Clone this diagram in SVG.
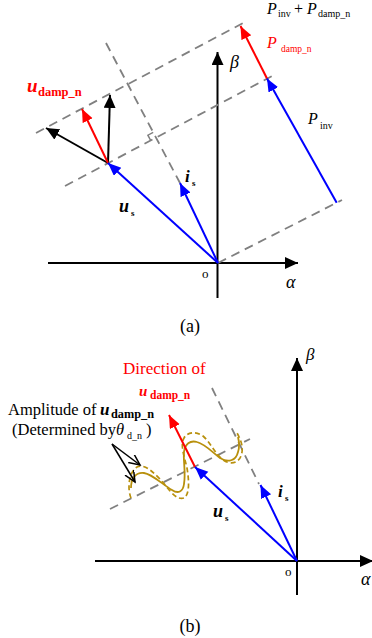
<svg xmlns="http://www.w3.org/2000/svg" width="372" height="638" viewBox="0 0 372 638">
<style>
text{font-family:"Liberation Serif","Times New Roman",serif;fill:#000}
.it{font-style:italic}
.bi{font-style:italic;font-weight:bold}
.b{font-weight:bold}
.red{fill:#ff0000}
.ax{stroke:#000;stroke-width:2;fill:none}
.dash{stroke:#808080;stroke-width:1.8;stroke-dasharray:9 6;fill:none}
.blue{stroke:#0000ff;stroke-width:2;fill:none}
.rd{stroke:#ff0000;stroke-width:2;fill:none}
.bk{stroke:#000;stroke-width:2;fill:none}
.gold{stroke:#b8900c;stroke-width:1.8;fill:none}
.goldd{stroke:#b8900c;stroke-width:1.7;fill:none;stroke-dasharray:5 3}
</style>
<defs>
<marker id="aK" markerUnits="userSpaceOnUse" markerWidth="14" markerHeight="12" refX="13" refY="6" orient="auto"><path d="M0,0 L13,6 L0,12 z" fill="#000"/></marker>
<marker id="aB" markerUnits="userSpaceOnUse" markerWidth="14" markerHeight="12" refX="13" refY="5.5" orient="auto"><path d="M0,0 L13,5.5 L0,11 z" fill="#0000ff"/></marker>
<marker id="aR" markerUnits="userSpaceOnUse" markerWidth="14" markerHeight="12" refX="13" refY="5.5" orient="auto"><path d="M0,0 L13,5.5 L0,11 z" fill="#ff0000"/></marker>
<marker id="aO" markerUnits="userSpaceOnUse" markerWidth="14" markerHeight="12" refX="11" refY="5" orient="auto"><path d="M0,0 L11,5 L0,10" fill="none" stroke="#000" stroke-width="1.5"/></marker>
</defs>

<g id="connectors">
<line class="ax" x1="48" y1="263" x2="298" y2="263" marker-end="url(#aK)"/>
<line class="ax" x1="217.5" y1="298" x2="217.5" y2="52" marker-end="url(#aK)"/>
<line class="dash" x1="218" y1="263" x2="342" y2="200"/>
<line class="dash" x1="65" y1="186" x2="274" y2="75"/>
<line class="dash" x1="36" y1="133" x2="245" y2="22"/>
<line class="dash" x1="106" y1="43" x2="180" y2="183"/>
<path d="M150.7,140.5 L147.9,135.2 L153.2,132.4" stroke="#808080" stroke-width="1.5" fill="none"/>
<line class="bk" x1="108" y1="163" x2="46" y2="128" marker-end="url(#aK)"/>
<line class="bk" x1="108" y1="163" x2="110" y2="95" marker-end="url(#aK)"/>
<line class="rd" x1="108" y1="163" x2="82" y2="109" marker-end="url(#aR)"/>
<line class="rd" x1="267" y1="78.5" x2="240.5" y2="26" marker-end="url(#aR)"/>
<line class="blue" x1="336.7" y1="202.7" x2="267" y2="78.5" marker-end="url(#aB)"/>
<line class="blue" x1="218" y1="263" x2="108" y2="163" marker-end="url(#aB)"/>
<line class="blue" x1="218" y1="263" x2="180" y2="183" marker-end="url(#aB)"/>

<line class="ax" x1="95" y1="561" x2="373" y2="561" marker-end="url(#aK)"/>
<line class="ax" x1="297" y1="595" x2="297" y2="358" marker-end="url(#aK)"/>
<line class="dash" x1="212" y1="388" x2="259" y2="484"/>
<line class="dash" x1="110" y1="509" x2="250" y2="439"/>
<path class="gold" d="M131,488 C131,478 136,472 144,473 C152,474 162,484 172,490 C178,494 183,492 184,484 C186,472 183,460 184,452 C185,444 190,440 197,442 C205,444 212,452 220,458 C228,463 236,461 238,452 C240,446 239,441 238,437"/>
<path class="goldd" d="M131,498 C127,488 129,472 137,467 C145,463 156,474 166,486 C172,494 178,500 184,498 C190,494 189,480 187,468 C184,455 180,445 184,438 C187,432 196,431 203,436 C210,442 214,452 222,459 C229,465 238,464 241,456 C244,448 241,440 237,433"/>
<line class="rd" x1="195" y1="467" x2="169" y2="415" marker-end="url(#aR)"/>
<line class="blue" x1="297" y1="561" x2="195" y2="467" marker-end="url(#aB)"/>
<line class="blue" x1="297" y1="561" x2="260.5" y2="485" marker-end="url(#aB)"/>
<line stroke="#000" stroke-width="1.5" x1="112" y1="444" x2="140" y2="465" marker-end="url(#aO)"/>
<line stroke="#000" stroke-width="1.5" x1="112" y1="444" x2="135" y2="482" marker-end="url(#aO)"/>
</g>

<g id="labels-a">
<text class="it" x="267" y="13.5" font-size="16">P</text>
<text x="278" y="17" font-size="10">inv</text>
<text x="294" y="13.5" font-size="16">+</text>
<text class="it" x="307" y="13.5" font-size="16">P</text>
<text x="318" y="17" font-size="10">damp_n</text>
<text class="it red" x="267" y="48" font-size="16">P</text>
<text class="red" x="281" y="52" font-size="9.5">damp_n</text>
<text class="it" x="308" y="124" font-size="16">P</text>
<text x="320" y="129" font-size="10">inv</text>
<text class="bi red" x="27" y="92" font-size="19">u</text>
<text class="b red" x="38" y="96" font-size="12.5">damp_n</text>
<text class="it" x="230" y="68" font-size="18">β</text>
<text class="bi" x="185" y="182" font-size="17">i</text>
<text class="b" x="192" y="186" font-size="9">s</text>
<text class="bi" x="119" y="212" font-size="18">u</text>
<text class="b" x="131" y="215.5" font-size="9">s</text>
<text x="202" y="278" font-size="13">o</text>
<text class="it" x="286" y="288" font-size="18">α</text>
<text x="190" y="332" font-size="18" text-anchor="middle">(a)</text>
</g>

<g id="labels-b">
<text class="red" x="123" y="374" font-size="17">Direction of</text>
<text class="bi red" x="139" y="396" font-size="15">u</text>
<text class="b red" x="150" y="398.5" font-size="11.5">damp_n</text>
<text x="8" y="415" font-size="16.5">Amplitude of</text>
<text class="bi" x="100" y="415" font-size="17">u</text>
<text class="b" x="111" y="417.5" font-size="12.3">damp_n</text>
<text x="12" y="435" font-size="16.5">(Determined by</text>
<text class="it" x="116" y="435" font-size="16.5">θ</text>
<text x="127" y="439" font-size="10">d_n</text>
<text x="146" y="435" font-size="16.5">)</text>
<text class="it" x="306" y="360" font-size="17">β</text>
<text class="bi" x="278" y="497" font-size="17">i</text>
<text class="b" x="285" y="501" font-size="9">s</text>
<text class="bi" x="213" y="517" font-size="18">u</text>
<text class="b" x="225" y="521" font-size="9">s</text>
<text x="285" y="576" font-size="13">o</text>
<text class="it" x="361" y="585" font-size="18">α</text>
<text x="190" y="632" font-size="18" text-anchor="middle">(b)</text>
</g>
</svg>
